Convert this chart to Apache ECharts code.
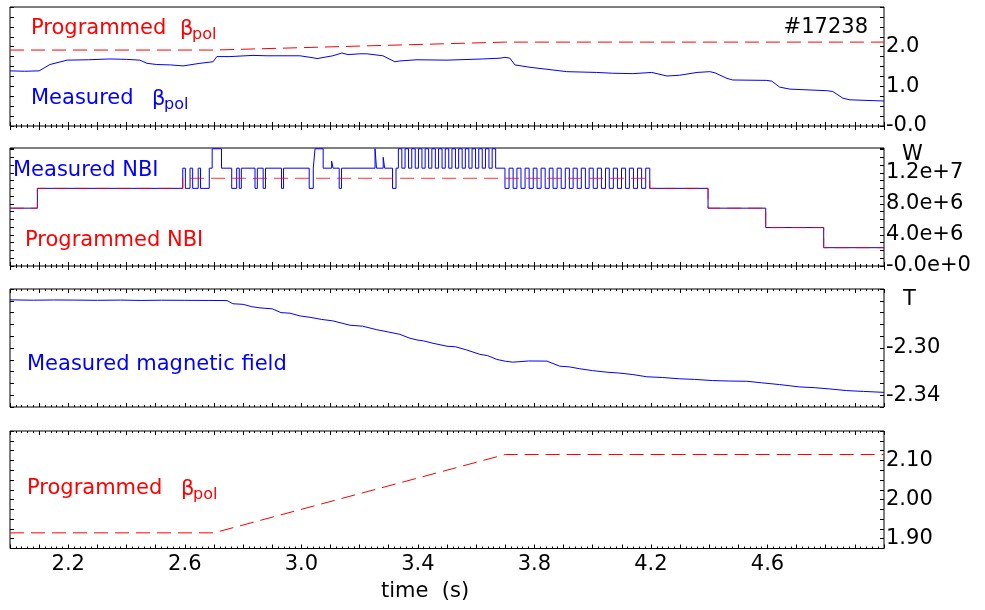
<!DOCTYPE html>
<html><head><meta charset="utf-8">
<script src="https://cdn.jsdelivr.net/npm/echarts@6/dist/echarts.min.js"></script>
<style>html,body{margin:0;padding:0;background:#fff}#c{width:985px;height:610px}</style>
</head><body><div id="c"></div><script>
// ---------- data ----------
// x axis tick labels (time, s)
const timeTickValues = [2.2, 2.6, 3.0, 3.4, 3.8, 4.2, 4.6];
const timeTickLabels = ['2.2', '2.6', '3.0', '3.4', '3.8', '4.2', '4.6'];

// panel 1 : poloidal beta
const bpolTickValues = [0, 1, 2];
const bpolTickLabels = ['-0.0', '1.0', '2.0'];
const progBpolT = [2.0, 2.7, 3.7, 5.0];
const progBpolV = [1.915, 1.915, 2.115, 2.115];
const measBpolT = [2.0, 2.05, 2.10, 2.137, 2.196, 2.27, 2.343, 2.40, 2.446, 2.47, 2.504, 2.55, 2.594, 2.652, 2.697, 2.71, 2.755, 2.834, 2.882, 2.995, 3.04, 3.054, 3.108, 3.139, 3.16, 3.201, 3.225, 3.28, 3.321, 3.338, 3.397, 3.50, 3.623, 3.682, 3.699, 3.716, 3.733, 3.785, 3.843, 3.911, 4.014, 4.069, 4.138, 4.203, 4.255, 4.299, 4.358, 4.402, 4.42, 4.461, 4.481, 4.598, 4.615, 4.642, 4.677, 4.804, 4.824, 4.859, 4.883, 5.0];
const measBpolV = [1.39, 1.38, 1.39, 1.55, 1.66, 1.67, 1.69, 1.68, 1.66, 1.58, 1.55, 1.54, 1.515, 1.58, 1.62, 1.75, 1.75, 1.78, 1.77, 1.77, 1.72, 1.70, 1.77, 1.84, 1.80, 1.82, 1.82, 1.77, 1.62, 1.64, 1.67, 1.66, 1.69, 1.71, 1.73, 1.71, 1.54, 1.48, 1.43, 1.37, 1.35, 1.33, 1.32, 1.35, 1.26, 1.28, 1.35, 1.37, 1.34, 1.20, 1.16, 1.15, 1.13, 0.98, 0.93, 0.89, 0.87, 0.70, 0.66, 0.63];

// panel 2 : neutral beam power (W)
const nbiTickValues = [0, 4e6, 8e6, 1.2e7];
const nbiTickLabels = ['-0.0e+0', '4.0e+6', '8.0e+6', '1.2e+7'];
const progNbiT = [2.0, 2.094, 2.593, 4.196, 4.396, 4.594, 4.793, 5.0];
const progNbiV = [7.45e6, 1.0e7, 1.13e7, 1.0e7, 7.45e6, 4.95e6, 2.36e6, 2.36e6];
const measNbiT = [2.0, 2.094, 2.593, 2.602, 2.618, 2.627, 2.646, 2.654, 2.684, 2.694, 2.726, 2.761, 2.778, 2.787, 2.794, 2.841, 2.849, 2.869, 2.877, 2.932, 2.939, 3.027, 3.041, 3.047, 3.075, 3.104, 3.109, 3.130, 3.138, 3.253, 3.258, 3.281, 3.286, 3.313, 3.325,
  3.333, 3.345, 3.356, 3.368, 3.379, 3.391, 3.402, 3.414, 3.425, 3.437, 3.448, 3.460, 3.471, 3.483, 3.494, 3.506, 3.517, 3.529, 3.540, 3.552, 3.563, 3.575, 3.586, 3.598, 3.609, 3.621, 3.632, 3.644, 3.655, 3.667,
  3.699, 3.713, 3.727, 3.740, 3.754, 3.768, 3.782, 3.796, 3.809, 3.823, 3.837, 3.851, 3.864, 3.878, 3.892, 3.906, 3.920, 3.933, 3.947, 3.961, 3.975, 3.988, 4.002, 4.016, 4.030, 4.044, 4.057, 4.071, 4.085, 4.099, 4.113, 4.126, 4.140, 4.154, 4.168, 4.182,
  4.196, 4.396, 4.594, 4.793, 5.0];
const measNbiV = [7.45e6, 1.0e7, 1.26e7, 1.0e7, 1.26e7, 1.0e7, 1.26e7, 1.0e7, 1.26e7, 1.51e7, 1.26e7, 1.0e7, 1.26e7, 1.0e7, 1.26e7, 1.0e7, 1.26e7, 1.0e7, 1.26e7, 1.0e7, 1.26e7, 1.0e7, 1.26e7, 1.51e7, 1.26e7, 1.35e7, 1.26e7, 1.0e7, 1.26e7, 1.51e7, 1.26e7, 1.40e7, 1.26e7, 1.0e7, 1.26e7,
  1.51e7, 1.26e7, 1.51e7, 1.26e7, 1.51e7, 1.26e7, 1.51e7, 1.26e7, 1.51e7, 1.26e7, 1.51e7, 1.26e7, 1.51e7, 1.26e7, 1.51e7, 1.26e7, 1.51e7, 1.26e7, 1.51e7, 1.26e7, 1.51e7, 1.26e7, 1.51e7, 1.26e7, 1.51e7, 1.26e7, 1.51e7, 1.26e7, 1.51e7, 1.26e7,
  1.0e7, 1.26e7, 1.0e7, 1.26e7, 1.0e7, 1.26e7, 1.0e7, 1.26e7, 1.0e7, 1.26e7, 1.0e7, 1.26e7, 1.0e7, 1.26e7, 1.0e7, 1.26e7, 1.0e7, 1.26e7, 1.0e7, 1.26e7, 1.0e7, 1.26e7, 1.0e7, 1.26e7, 1.0e7, 1.26e7, 1.0e7, 1.26e7, 1.0e7, 1.26e7, 1.0e7, 1.26e7, 1.0e7, 1.26e7, 1.0e7, 1.26e7,
  1.0e7, 7.45e6, 4.95e6, 2.36e6, 2.36e6];

// panel 3 : toroidal magnetic field (T), jitter read by eye
const measBtT = [2.0, 2.08, 2.15, 2.22, 2.30, 2.38, 2.45, 2.52, 2.60, 2.68, 2.745, 2.765, 2.80, 2.83, 2.858, 2.90, 2.93, 2.961, 2.995, 3.03, 3.07, 3.108, 3.14, 3.167, 3.21, 3.259, 3.30, 3.338, 3.37, 3.397, 3.42, 3.452, 3.50, 3.53, 3.568, 3.613, 3.64, 3.671, 3.70, 3.726, 3.78, 3.843, 3.887, 3.92, 3.956, 4.00, 4.049, 4.09, 4.138, 4.186, 4.24, 4.299, 4.35, 4.412, 4.47, 4.529, 4.58, 4.642, 4.711, 4.76, 4.814, 4.872, 4.93, 5.0];
const measBtV = [-2.2592, -2.2595, -2.2593, -2.2594, -2.2596, -2.2594, -2.2597, -2.2595, -2.2596, -2.2597, -2.2598, -2.2625, -2.2630, -2.2650, -2.2660, -2.2668, -2.2700, -2.2705, -2.2728, -2.2740, -2.2758, -2.2770, -2.2790, -2.2807, -2.2815, -2.2845, -2.2865, -2.2884, -2.2915, -2.2932, -2.2940, -2.2960, -2.2985, -2.2990, -2.3017, -2.3054, -2.3065, -2.3097, -2.3112, -2.3120, -2.3110, -2.3111, -2.3154, -2.3160, -2.3176, -2.3192, -2.3205, -2.3212, -2.3225, -2.3244, -2.3250, -2.3261, -2.3266, -2.3276, -2.3280, -2.3282, -2.3295, -2.3310, -2.3330, -2.3336, -2.3347, -2.3361, -2.3368, -2.3376];
const btTickValues = [-2.30, -2.34];
const btTickLabels = ['-2.30', '-2.34'];

// panel 4 : programmed beta (zoom)
const progTickValues = [1.90, 2.00, 2.10];
const progTickLabels = ['1.90', '2.00', '2.10'];

// ---------- chart ----------
const FONT = '"DejaVu Sans", "Liberation Sans", sans-serif';
const zip = (a, b) => a.map((v, i) => [v, b[i]]);
const pick = (vals, labs, tol) => v => { for (let i = 0; i < vals.length; i++) if (Math.abs(v - vals[i]) < tol) return labs[i]; return ''; };

const grids = [
  { left: 10, right: 101, top: 7, height: 119 },
  { left: 10, right: 101, top: 148, height: 118 },
  { left: 10, right: 101, top: 289, height: 118 },
  { left: 10, right: 101, top: 431, height: 117.5 }
].map(g => Object.assign(g, { show: true, borderColor: '#000', borderWidth: 1, backgroundColor: 'transparent', containLabel: false, outerBoundsMode: 'none' }));

const tickStyle = { color: '#000', width: 1 };
function xAx(gi, pos, withLabels) {
  return {
    type: 'value', gridIndex: gi, position: pos, min: 2, max: 5, interval: 0.1,
    axisLine: { show: false },
    axisTick: { show: true, inside: true, length: 4, lineStyle: tickStyle },
    minorTick: { show: true, splitNumber: 5, length: 2, lineStyle: tickStyle },
    splitLine: { show: false }, minorSplitLine: { show: false },
    axisLabel: withLabels ? { show: true, margin: 6, color: '#000', fontSize: 21, fontFamily: FONT,
      formatter: pick(timeTickValues, timeTickLabels, 1e-6), showMinLabel: true, showMaxLabel: true } : { show: false }
  };
}
function yAx(gi, pos, min, max, interval, fmt) {
  return {
    type: 'value', gridIndex: gi, position: pos, min, max, interval,
    axisLine: { show: false },
    axisTick: { show: true, inside: true, length: 4, lineStyle: tickStyle },
    splitLine: { show: false },
    axisLabel: fmt ? { show: true, margin: 2, color: '#000', fontSize: 21, fontFamily: FONT, formatter: fmt, showMinLabel: true, showMaxLabel: true } : { show: false }
  };
}

const xAxis = [], yAxis = [];
for (let i = 0; i < 4; i++) { xAxis.push(xAx(i, 'bottom', i === 3)); xAxis.push(xAx(i, 'top', false)); }
const yDefs = [
  [0, 3, 0.25, pick(bpolTickValues, bpolTickLabels, 1e-6)],
  [0, 1.52e7, 1e6, pick(nbiTickValues, nbiTickLabels, 1)],
  [-2.35, -2.25, 0.01, pick(btTickValues, btTickLabels, 1e-6)],
  [1.875, 2.175, 0.025, pick(progTickValues, progTickLabels, 1e-6)]
];
yDefs.forEach((d, i) => { yAxis.push(yAx(i, 'left', d[0], d[1], d[2], null)); yAxis.push(yAx(i, 'right', d[0], d[1], d[2], d[3])); });

const RED = '#ff0000', BLUE = '#0000ff';
const dash = [14, 7];
function ln(gi, data, color, extra) {
  return Object.assign({ type: 'line', xAxisIndex: 2 * gi, yAxisIndex: 2 * gi + 1, data, showSymbol: false, symbol: 'none',
    silent: true, animation: false, clip: true, lineStyle: { color, width: 1 } }, extra || {});
}
const series = [
  ln(0, zip(progBpolT, progBpolV), RED, { lineStyle: { color: RED, width: 1, type: dash } }),
  ln(0, zip(measBpolT, measBpolV), BLUE),
  ln(1, zip(measNbiT, measNbiV), BLUE, { step: 'end' }),
  ln(1, zip(progNbiT, progNbiV), RED, { step: 'end', lineStyle: { color: RED, width: 1, type: dash, opacity: 0.8 } }),
  ln(2, zip(measBtT, measBtV), BLUE),
  ln(3, zip(progBpolT, progBpolV), RED, { lineStyle: { color: RED, width: 1, type: dash } })
];

function txt(x, y, text, color, size, align) {
  return { type: 'text', x, y, silent: true, style: { text, fill: color, font: size + 'px ' + FONT,
    fontSize: size, fontFamily: FONT, textAlign: align || 'left', align: align || 'left', textVerticalAlign: 'middle', verticalAlign: 'middle' } };
}
const graphic = [
  txt(31, 29, 'Programmed', RED, 21), txt(180, 30, 'β', RED, 21), txt(192, 35, 'pol', RED, 16),
  txt(868, 28, '#17238', '#000', 21, 'right'),
  txt(31, 99, 'Measured', BLUE, 21), txt(152, 100, 'β', BLUE, 21), txt(164, 105, 'pol', BLUE, 16),
  txt(13, 171, 'Measured NBI', BLUE, 21),
  txt(25, 241, 'Programmed NBI', RED, 21),
  txt(27, 365, 'Measured magnetic field', BLUE, 21),
  txt(27, 489, 'Programmed', RED, 21), txt(181, 490, 'β', RED, 21), txt(193, 495, 'pol', RED, 16),
  txt(902, 155, 'W', '#000', 21),
  txt(903, 300, 'T', '#000', 21),
  txt(381, 592, 'time  (s)', '#000', 21)
];

const chart = echarts.init(document.getElementById('c'), null, { renderer: 'canvas' });
chart.setOption({ animation: false, backgroundColor: '#fff', grid: grids, xAxis, yAxis, series, graphic });
</script></body></html>
